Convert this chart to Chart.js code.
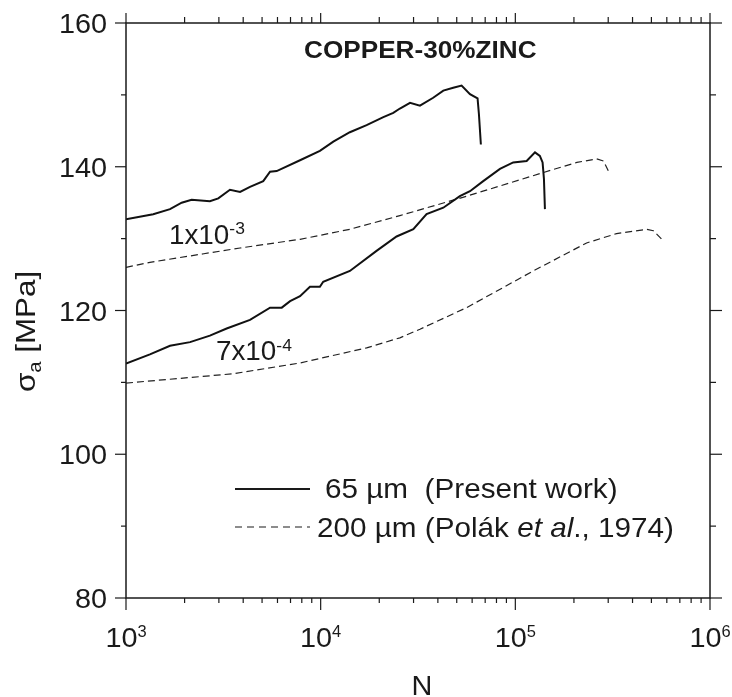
<!DOCTYPE html>
<html>
<head>
<meta charset="utf-8">
<script src="https://cdn.jsdelivr.net/npm/chart.js@4.4.0/dist/chart.umd.min.js"></script>
<style>
  html, body { margin: 0; background: #fff; }
  canvas { display: block; }
</style>
</head>
<body>
<canvas id="grafico" width="732" height="697"></canvas>
<script>
// ── Curvas de endurecimiento cíclico, Cu-30%Zn ──
// 65 µm (presente trabajo), amplitud 1x10^-3
const nSolido1e3 = [1000, 1380, 1683, 1932, 2173, 2698, 2979, 3420, 3855, 4335, 5070, 5495, 5943, 7834, 9908, 11614, 14125, 17219, 20989, 23605, 25530, 28774, 32359, 37844, 42658, 47973, 52966, 58479, 63973, 65013, 66527];
const sSolido1e3 = [132.7, 133.4, 134.1, 135.0, 135.4, 135.2, 135.6, 136.8, 136.5, 137.2, 138.0, 139.3, 139.4, 140.9, 142.2, 143.5, 144.8, 145.8, 146.9, 147.5, 148.1, 148.9, 148.5, 149.6, 150.6, 151.0, 151.3, 150.1, 149.5, 147.3, 143.1];

// 65 µm, amplitud 7x10^-4
const nSolido7e4 = [1000, 1327, 1683, 2133, 2698, 3289, 4335, 5495, 6310, 6966, 7834, 8810, 9908, 10304, 14125, 19364, 24547, 29923, 34995, 42658, 51880, 58479, 68391, 83368, 97499, 114290, 126183, 133660, 138038, 140281, 141906];
const sSolido7e4 = [112.6, 113.9, 115.1, 115.6, 116.5, 117.5, 118.7, 120.4, 120.4, 121.3, 122.0, 123.3, 123.3, 124.0, 125.5, 128.3, 130.3, 131.3, 133.4, 134.3, 135.9, 136.6, 138.0, 139.7, 140.6, 140.8, 142.0, 141.5, 140.6, 138.3, 134.1];

// 200 µm (Polák et al., 1974), amplitud 1x10^-3
const nDiscont1e3 = [1000, 1327, 2512, 3855, 7834, 14125, 25530, 56234, 139316, 207014, 261818, 283792, 300608];
const sDiscont1e3 = [126.0, 126.7, 127.9, 128.7, 129.9, 131.3, 133.2, 135.9, 139.2, 140.6, 141.1, 140.8, 139.4];

// 200 µm, amplitud 7x10^-4
const nDiscont7e4 = [1000, 1618, 3556, 7834, 17219, 25530, 32359, 56234, 123595, 232274, 331131, 472063, 511682, 575440];
const sDiscont7e4 = [109.9, 110.4, 111.2, 112.7, 114.8, 116.2, 117.4, 120.4, 125.5, 129.4, 130.7, 131.3, 131.1, 129.7];

// ── Ejes ──
const yMayores = [80, 100, 120, 140, 160];
const yMenores = [90, 110, 130, 150];
const xMayores = [1e3, 1e4, 1e5, 1e6];
const xExponentes = ['3', '4', '5', '6'];
const xMultiplos = [2, 3, 4, 5, 6, 7, 8, 9];

const FUENTE = '"Liberation Sans", Arial, sans-serif';
const ESTIRAR = 1.03;   // leve ensanche horizontal del texto
const TINTA = '#1a1a1a';

function puntos(ns, ss) {
    return ns.map((n, i) => ({ x: n, y: ss[i] }));
}

function fuente(size, opts) {
    return `${opts.italic ? 'italic ' : ''}${opts.bold ? 'bold ' : ''}${size}px ${FUENTE}`;
}

// Texto con ensanche horizontal; devuelve el ancho dibujado
function texto(ctx, str, x, y, size, opts = {}) {
    const k = opts.stretch || ESTIRAR;
    ctx.save();
    ctx.font = fuente(size, opts);
    ctx.fillStyle = TINTA;
    ctx.textBaseline = 'alphabetic';
    ctx.textAlign = 'left';
    const w = ctx.measureText(str).width * k;
    let x0 = x;
    if (opts.align === 'right') x0 = x - w;
    if (opts.align === 'center') x0 = x - w / 2;
    ctx.translate(x0, y);
    ctx.scale(k, 1);
    ctx.fillText(str, 0, 0);
    ctx.restore();
    return w;
}

function ancho(ctx, str, size, opts = {}) {
    ctx.save();
    ctx.font = fuente(size, opts);
    const w = ctx.measureText(str).width * (opts.stretch || ESTIRAR);
    ctx.restore();
    return w;
}

function linea(ctx, x1, y1, x2, y2) {
    ctx.beginPath();
    ctx.moveTo(x1, y1);
    ctx.lineTo(x2, y2);
    ctx.stroke();
}

// ── Marco, marcas de los cuatro lados, rótulos y leyenda ──
const marcoPlugin = {
    id: 'marco',
    afterDatasetsDraw(chart) {
        const { ctx, chartArea: a, scales: { x, y } } = chart;
        ctx.save();
        ctx.strokeStyle = TINTA;

        // marco
        ctx.lineWidth = 1.5;
        ctx.strokeRect(a.left, a.top, a.right - a.left, a.bottom - a.top);

        // marcas en Y (izquierda y derecha, hacia fuera)
        ctx.lineWidth = 1.2;
        yMayores.forEach(v => {
            const py = y.getPixelForValue(v);
            linea(ctx, a.left - 11, py, a.left, py);
            linea(ctx, a.right, py, a.right + 12, py);
        });
        yMenores.forEach(v => {
            const py = y.getPixelForValue(v);
            linea(ctx, a.left - 5, py, a.left, py);
            linea(ctx, a.right, py, a.right + 6, py);
        });

        // marcas en X (abajo y arriba, hacia fuera)
        xMayores.forEach(v => {
            const px = x.getPixelForValue(v);
            linea(ctx, px, a.bottom, px, a.bottom + 12);
            linea(ctx, px, a.top - 10, px, a.top);
        });
        xMayores.slice(0, -1).forEach(dec => {
            xMultiplos.forEach(m => {
                const px = x.getPixelForValue(dec * m);
                linea(ctx, px, a.bottom, px, a.bottom + 5);
                linea(ctx, px, a.top - 6, px, a.top);
            });
        });

        // rótulos del eje Y
        yMayores.forEach(v => {
            texto(ctx, String(v), 107, y.getPixelForValue(v) + 10, 28, { align: 'right' });
        });

        // rótulos del eje X: 10 con exponente
        xMayores.forEach((v, i) => {
            const px = x.getPixelForValue(v);
            const wBase = ancho(ctx, '10', 28);
            const wExp = ancho(ctx, xExponentes[i], 16);
            const x0 = px - (wBase + wExp) / 2;
            texto(ctx, '10', x0, 647, 28);
            texto(ctx, xExponentes[i], x0 + wBase, 637, 16);
        });

        // título del eje X
        texto(ctx, 'N', (a.left + a.right) / 2 + 4, 695, 28, { align: 'center' });

        // título del eje Y (rotado): σa [MPa]
        ctx.save();
        ctx.translate(35, 392);
        ctx.rotate(-Math.PI / 2);
        let cx = texto(ctx, 'σ', 0, 0, 28, { stretch: 1.12 });
        cx += texto(ctx, 'a', cx, 6, 18, { stretch: 1.12 });
        texto(ctx, ' [MPa]', cx, 0, 28, { stretch: 1.12 });
        ctx.restore();

        // título interno
        texto(ctx, 'COPPER-30%ZINC', 304, 58, 24, { bold: true, stretch: 1.09 });

        // amplitudes de deformación
        let w = texto(ctx, '1x10', 169, 244, 27);
        texto(ctx, '-3', 169 + w, 234, 17);
        w = texto(ctx, '7x10', 216, 360, 27);
        texto(ctx, '-4', 216 + w, 351, 17);

        // leyenda
        const kLey = 1.06;
        ctx.lineWidth = 2;
        linea(ctx, 235, 489, 310, 489);
        texto(ctx, '65 µm  (Present work)', 325, 498, 28, { stretch: kLey });

        ctx.lineWidth = 1.2;
        ctx.setLineDash([7, 5]);
        linea(ctx, 235, 527, 310, 527);
        ctx.setLineDash([]);
        let lx = 317;
        lx += texto(ctx, '200 µm (Polák ', lx, 537, 28, { stretch: kLey });
        lx += texto(ctx, 'et al', lx, 537, 28, { italic: true, stretch: kLey });
        texto(ctx, '., 1974)', lx, 537, 28, { stretch: kLey });

        ctx.restore();
    },
};

const estiloSolido = { borderColor: '#111', borderWidth: 2, showLine: true, pointRadius: 0, tension: 0 };
const estiloDiscont = { borderColor: '#222', borderWidth: 1.2, borderDash: [7, 4], showLine: true, pointRadius: 0, tension: 0 };

new Chart(document.getElementById('grafico'), {
    type: 'scatter',
    data: {
        datasets: [
            { label: '65 µm 1x10-3', data: puntos(nSolido1e3, sSolido1e3), ...estiloSolido },
            { label: '65 µm 7x10-4', data: puntos(nSolido7e4, sSolido7e4), ...estiloSolido },
            { label: '200 µm 1x10-3', data: puntos(nDiscont1e3, sDiscont1e3), ...estiloDiscont },
            { label: '200 µm 7x10-4', data: puntos(nDiscont7e4, sDiscont7e4), ...estiloDiscont },
        ],
    },
    options: {
        responsive: false,
        devicePixelRatio: 1,
        animation: false,
        layout: { padding: { left: 126, right: 22, top: 23, bottom: 99 } },
        plugins: { legend: { display: false }, tooltip: { enabled: false } },
        scales: {
            x: { type: 'logarithmic', min: 1000, max: 1000000, display: false },
            y: { type: 'linear', min: 80, max: 160, display: false },
        },
    },
    plugins: [marcoPlugin],
});
</script>
</body>
</html>
